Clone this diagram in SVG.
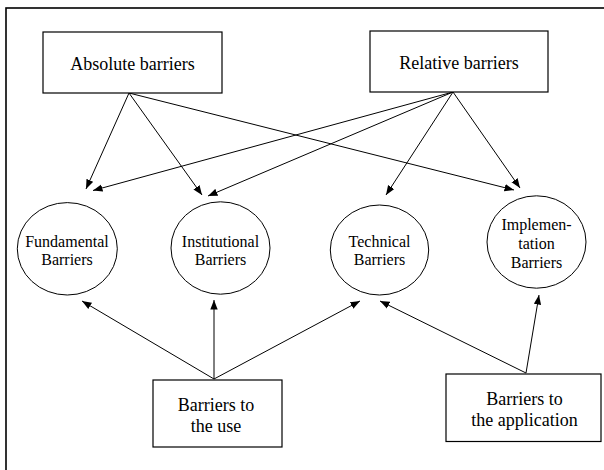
<svg xmlns="http://www.w3.org/2000/svg" width="604" height="470" viewBox="0 0 604 470">
<style>
.box{fill:#fff;stroke:#000;stroke-width:1.2}
.node{fill:#fff;stroke:#000;stroke-width:1}
.t{font-family:"Liberation Serif","Times New Roman",serif;fill:#000;text-anchor:middle}
.big{font-size:18px}
.sm{font-size:16px}
.c{stroke:#000;stroke-width:1;fill:none;marker-end:url(#ah)}
</style>
<defs>
<marker id="ah" markerUnits="userSpaceOnUse" markerWidth="10" markerHeight="8" refX="9.5" refY="4" orient="auto">
<path d="M0,0.3 L9.5,4 L0,7.7 z" fill="#000"/>
</marker>
</defs>
<rect x="0" y="0" width="604" height="470" fill="#fff"/>
<rect x="6" y="8" width="610" height="480" fill="none" stroke="#000" stroke-width="1.6"/>
<g id="connectors">
<line class="c" x1="129" y1="93" x2="86" y2="189"/>
<line class="c" x1="129" y1="93" x2="202" y2="195"/>
<line class="c" x1="129" y1="93" x2="514" y2="190"/>
<line class="c" x1="453" y1="92" x2="93" y2="190.5"/>
<line class="c" x1="453" y1="92" x2="208" y2="196"/>
<line class="c" x1="453" y1="92" x2="386" y2="195"/>
<line class="c" x1="453" y1="92" x2="520" y2="188"/>
<line class="c" x1="214" y1="379" x2="82" y2="301"/>
<line class="c" x1="214" y1="379" x2="214" y2="300"/>
<line class="c" x1="214" y1="379" x2="360" y2="301"/>
<line class="c" x1="526" y1="373" x2="380" y2="301"/>
<line class="c" x1="526" y1="373" x2="539" y2="295"/>
</g>
<g id="absolute">
<rect class="box" x="43" y="32" width="179" height="61"/>
<text class="t big" x="132.5" y="70">Absolute barriers</text>
</g>
<g id="relative">
<rect class="box" x="370" y="31" width="178" height="61"/>
<text class="t big" x="459" y="68.5">Relative barriers</text>
</g>
<g id="fundamental">
<ellipse class="node" cx="67.3" cy="248.8" rx="50" ry="46.2"/>
<text class="t sm" x="67" y="246.5">Fundamental</text>
<text class="t sm" x="67" y="265">Barriers</text>
</g>
<g id="institutional">
<ellipse class="node" cx="220.5" cy="248" rx="49.5" ry="46.2"/>
<text class="t sm" x="220.5" y="246.5">Institutional</text>
<text class="t sm" x="220.5" y="265">Barriers</text>
</g>
<g id="technical">
<ellipse class="node" cx="379.5" cy="250" rx="49.2" ry="45"/>
<text class="t sm" x="379.5" y="246.5">Technical</text>
<text class="t sm" x="379.5" y="265">Barriers</text>
</g>
<g id="implementation">
<ellipse class="node" cx="536.5" cy="242" rx="49.5" ry="46.2"/>
<text class="t sm" x="536.5" y="230">Implemen-</text>
<text class="t sm" x="536.5" y="248.5">tation</text>
<text class="t sm" x="536.5" y="267.5">Barriers</text>
</g>
<g id="use">
<rect class="box" x="153" y="380" width="129" height="67"/>
<text class="t big" x="216" y="410.5">Barriers to</text>
<text class="t big" x="216" y="431.5">the use</text>
</g>
<g id="application">
<rect class="box" x="446" y="374" width="155" height="67.5"/>
<text class="t big" x="524.5" y="404.5">Barriers to</text>
<text class="t big" x="524.5" y="425.5">the application</text>
</g>
</svg>
